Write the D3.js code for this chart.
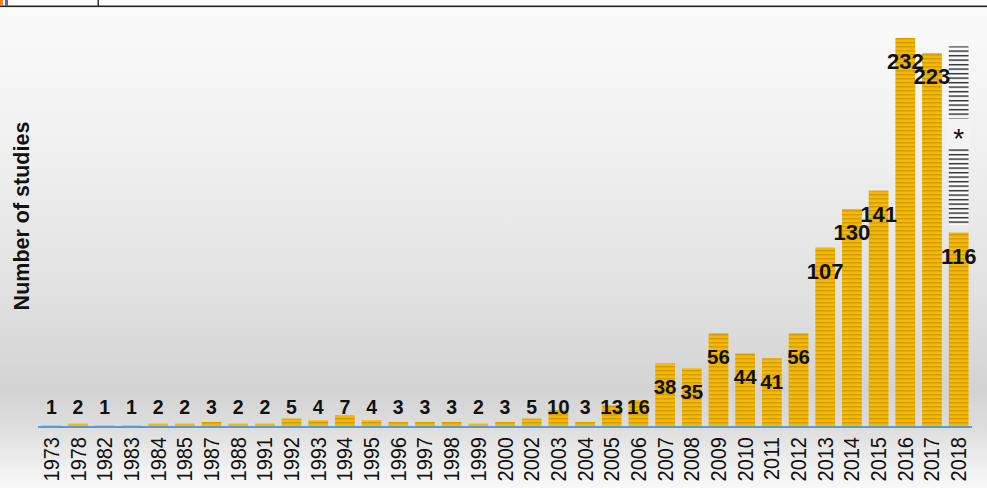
<!DOCTYPE html>
<html>
<head>
<meta charset="utf-8">
<script src="https://cdn.jsdelivr.net/npm/d3@7"></script>
<style>
  html, body { margin: 0; padding: 0; background: #fff; }
  svg { display: block; font-family: "Liberation Sans", Arial, sans-serif; }
</style>
</head>
<body>
<svg id="chart" width="987" height="488"></svg>
<script>
const years = ['1973', '1978', '1982', '1983', '1984', '1985', '1987', '1988', '1991', '1992',
  '1993', '1994', '1995', '1996', '1997', '1998', '1999', '2000', '2002', '2003',
  '2004', '2005', '2006', '2007', '2008', '2009', '2010', '2011', '2012', '2013',
  '2014', '2015', '2016', '2017', '2018'];
const counts = [1, 2, 1, 1, 2, 2, 3, 2, 2, 5,
  4, 7, 4, 3, 3, 3, 2, 3, 5, 10,
  3, 13, 16, 38, 35, 56, 44, 41, 56, 107,
  130, 141, 232, 223, 116];
// hatched estimate above the 2018 bar (value range), with the asterisk gap
const estimate2018 = [120, 227];
const asteriskGap = [166, 184];

const W = 987, H = 488;
const baseline = 427;
const svg = d3.select('#chart');
const defs = svg.append('defs');

// background gradient
const bg = defs.append('linearGradient').attr('id', 'bg')
    .attr('x1', 0).attr('y1', 0).attr('x2', 0).attr('y2', 1);
[[0, '#fbfbfb'], [0.3, '#f0f0f0'], [0.6, '#e1e1e1'], [0.8, '#d3d3d3'],
 [0.88, '#dedede'], [0.94, '#ececec'], [1, '#f8f8f8']]
  .forEach(([o, c]) => bg.append('stop').attr('offset', o).attr('stop-color', c));

// striped gold fill for bars
const stripes = defs.append('pattern').attr('id', 'gold')
    .attr('patternUnits', 'userSpaceOnUse').attr('width', 4).attr('height', 4);
stripes.append('rect').attr('width', 4).attr('height', 4).attr('fill', '#f6b900');
stripes.append('rect').attr('y', 2).attr('width', 4).attr('height', 1).attr('fill', '#d49d00');
stripes.append('rect').attr('y', 3).attr('width', 4).attr('height', 1).attr('fill', '#e6ab00');

const hatch = defs.append('pattern').attr('id', 'hatch')
    .attr('patternUnits', 'userSpaceOnUse').attr('width', 4).attr('height', 4.5);
hatch.append('rect').attr('width', 4).attr('height', 4.5).attr('fill', '#fbfbfb');
hatch.append('rect').attr('y', 1).attr('width', 4).attr('height', 1.3).attr('fill', '#151515');

svg.append('rect').attr('width', W).attr('height', H).attr('fill', 'url(#bg)');

// slide fragment at the top
svg.append('rect').attr('width', W).attr('height', 6).attr('fill', '#fff');
svg.append('rect').attr('y', 5.5).attr('width', W).attr('height', 1.6).attr('fill', '#222');
svg.append('rect').attr('x', 97.5).attr('width', 1.4).attr('height', 6).attr('fill', '#222');
svg.append('rect').attr('x', 0).attr('width', 3).attr('height', 6).attr('fill', '#e8832a');
svg.append('rect').attr('x', 5).attr('width', 3).attr('height', 6).attr('fill', '#6b5fb0');

const x = d3.scaleBand().domain(years).range([38, 972])
    .paddingInner(0.26).paddingOuter(0.13);
const y = d3.scaleLinear().domain([0, 232]).range([baseline, 38]);

const data = years.map((yr, i) => ({ year: yr, value: counts[i] }));

// bars
svg.append('g').selectAll('rect')
  .data(data)
  .join('rect')
    .attr('x', d => x(d.year))
    .attr('y', d => y(d.value))
    .attr('width', x.bandwidth())
    .attr('height', d => baseline - y(d.value))
    .attr('fill', 'url(#gold)');

// 2018 estimate
const last = years[years.length - 1];
svg.append('rect')
    .attr('x', x(last)).attr('y', y(estimate2018[1]))
    .attr('width', x.bandwidth())
    .attr('height', y(estimate2018[0]) - y(estimate2018[1]))
    .attr('fill', 'url(#hatch)');
svg.append('rect')
    .attr('x', x(last) - 2).attr('y', y(asteriskGap[1]))
    .attr('width', x.bandwidth() + 4)
    .attr('height', y(asteriskGap[0]) - y(asteriskGap[1]))
    .attr('fill', '#f3f3f3');
svg.append('text')
    .attr('x', x(last) + x.bandwidth() / 2)
    .attr('y', (y(asteriskGap[0]) + y(asteriskGap[1])) / 2 + 14)
    .attr('text-anchor', 'middle')
    .attr('font-size', 28).attr('fill', '#111')
    .text('*');

// axis line
svg.append('line')
    .attr('x1', 38).attr('x2', 972).attr('y1', baseline).attr('y2', baseline)
    .attr('stroke', '#5b9bd5').attr('stroke-width', 2);

// value labels
svg.append('g').selectAll('text')
  .data(data)
  .join('text')
    .attr('x', d => x(d.year) + x.bandwidth() / 2)
    .attr('y', d => Math.min(y(d.value) + 31, 414))
    .attr('text-anchor', 'middle')
    .attr('font-weight', 'bold')
    .attr('font-size', d => d.value >= 100 ? 22 : d.value >= 10 ? 20.5 : 19.5)
    .attr('fill', '#111')
    .text(d => d.value);

// year labels
svg.append('g').selectAll('text')
  .data(years)
  .join('text')
    .attr('transform', d => `translate(${x(d) + x.bandwidth() / 2 + 7.5},437) scale(1.1,1) rotate(-90)`)
    .attr('text-anchor', 'end')
    .attr('font-size', 20)
    .attr('fill', '#111')
    .text(d => d);

// y axis title
svg.append('text')
    .attr('transform', 'translate(29,216) rotate(-90)')
    .attr('text-anchor', 'middle')
    .attr('font-size', 21.5).attr('font-weight', 'bold').attr('fill', '#111')
    .text('Number of studies');
</script>
</body>
</html>
